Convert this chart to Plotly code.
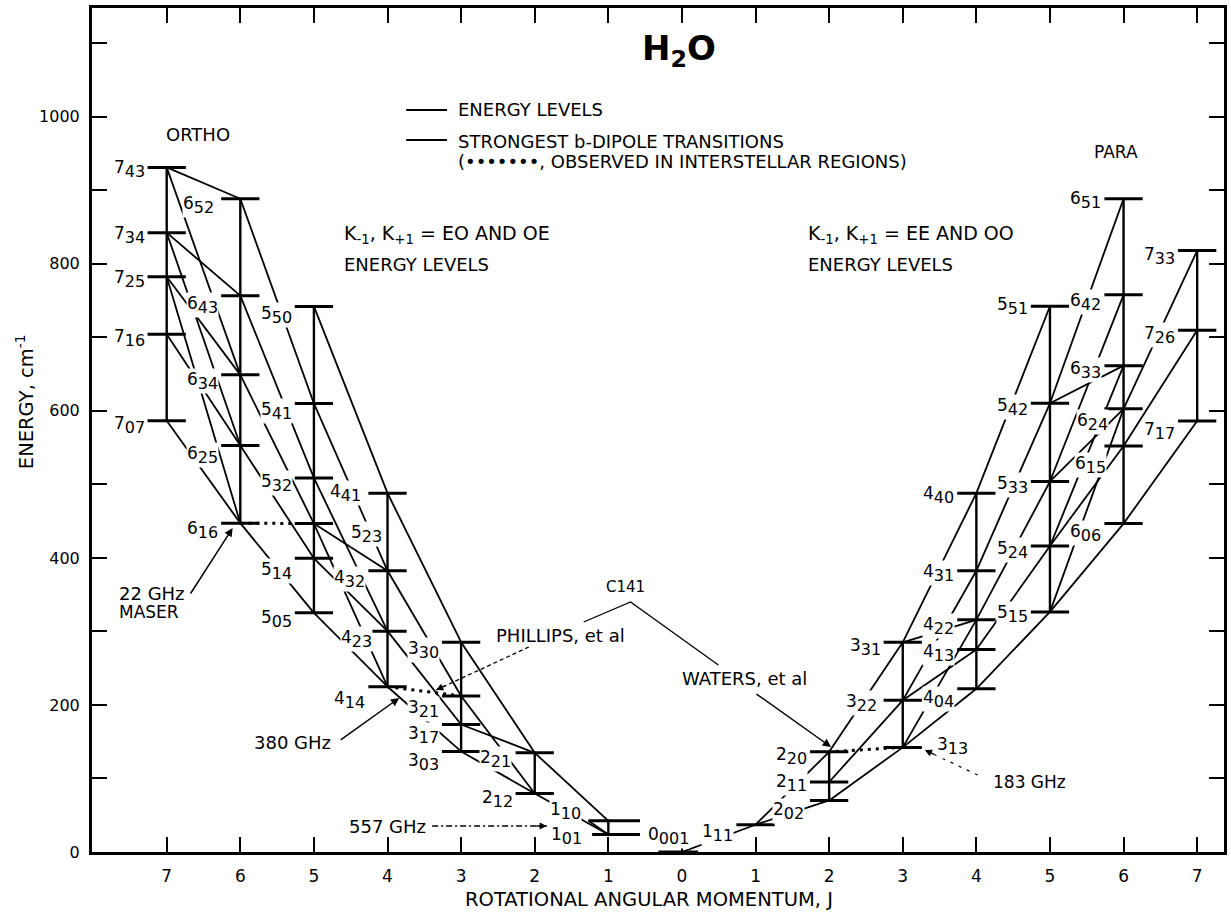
import plotly.graph_objects as go

# ---------------- data ----------------
ortho_levels = ["1_01", "1_10", "2_12", "2_21", "3_03", "3_17", "3_21", "3_30",
                "4_14", "4_23", "4_32", "4_41", "5_05", "5_14", "5_23", "5_32", "5_41", "5_50",
                "6_16", "6_25", "6_34", "6_43", "6_52", "7_07", "7_16", "7_25", "7_34", "7_43"]
ortho_energy = [23.8, 42.4, 79.5, 134.9, 136.8, 173.4, 212.2, 285.4,
                224.8, 300.4, 382.5, 488.1, 325.3, 399.5, 446.7, 508.8, 610.1, 742.1,
                447.3, 552.9, 649.0, 756.7, 888.6, 586.5, 704.2, 782.4, 842.4, 931.2]

para_levels = ["0_00", "1_11", "2_02", "2_11", "2_20", "3_13", "3_22", "3_31",
               "4_04", "4_13", "4_22", "4_31", "4_40", "5_15", "5_24", "5_33", "5_42", "5_51",
               "6_06", "6_15", "6_24", "6_33", "6_42", "6_51", "7_17", "7_26", "7_33"]
para_energy = [0.0, 37.1, 70.1, 95.2, 136.2, 142.3, 206.3, 285.2,
               222.0, 275.5, 315.8, 382.5, 488.1, 326.6, 416.2, 504.0, 610.3, 742.3,
               446.7, 552.3, 602.8, 661.5, 757.8, 888.6, 586.2, 709.6, 818.0]

ortho_transitions = [("7_43", "6_52"), ("7_43", "6_34"), ("7_34", "6_43"), ("7_34", "6_25"),
                     ("7_25", "6_34"), ("7_25", "6_16"), ("7_16", "6_25"), ("7_07", "6_16"),
                     ("6_52", "5_41"), ("6_43", "5_32"), ("6_34", "5_23"), ("6_25", "5_14"),
                     ("6_16", "5_05"),
                     ("5_50", "4_41"), ("5_41", "4_32"), ("5_32", "4_23"), ("5_23", "4_32"),
                     ("5_23", "4_14"), ("5_14", "4_23"), ("5_05", "4_14"),
                     ("4_41", "3_30"), ("4_32", "3_21"), ("4_23", "3_17"), ("4_14", "3_03"),
                     ("3_30", "2_21"), ("3_21", "2_12"), ("3_17", "2_21"), ("3_03", "2_12"),
                     ("2_21", "1_10"), ("2_12", "1_01")]
para_transitions = [("1_11", "0_00"), ("2_02", "1_11"), ("2_20", "1_11"),
                    ("3_13", "2_02"), ("3_22", "2_11"), ("3_31", "2_20"),
                    ("4_04", "3_13"), ("4_13", "3_22"), ("4_22", "3_13"), ("4_22", "3_31"),
                    ("4_31", "3_22"), ("4_40", "3_31"),
                    ("5_15", "4_04"), ("5_24", "4_13"), ("5_33", "4_22"), ("5_42", "4_31"),
                    ("5_51", "4_40"),
                    ("6_06", "5_15"), ("6_15", "5_24"), ("6_24", "5_15"), ("6_24", "5_33"),
                    ("6_33", "5_24"), ("6_33", "5_42"), ("6_42", "5_33"), ("6_51", "5_42"),
                    ("7_17", "6_06"), ("7_26", "6_15"), ("7_33", "6_24")]
observed_lines = [("6_16", "5_23"), ("4_14", "3_21"), ("3_13", "2_20")]

j_tick_values = [-7, -6, -5, -4, -3, -2, -1, 0, 1, 2, 3, 4, 5, 6, 7]
j_tick_labels = ["7", "6", "5", "4", "3", "2", "1", "0", "1", "2", "3", "4", "5", "6", "7"]
energy_tick_values = [0, 100, 200, 300, 400, 500, 600, 700, 800, 900, 1000, 1100]
energy_tick_labels = ["0", "", "200", "", "400", "", "600", "", "800", "", "1000", ""]

# ---------------- layout constants ----------------
FONT = "DejaVu Sans"
W, H = 1231, 914
PL, PR, PT, PB = 92, 1227, 8, 852      # plot-area edges in px
X0PX, XSCALE = 683.5, 73.8             # px of J=0, px per J
YSCALE = (PB - PT) / 1148.0


def px_x(px):
    return (px - X0PX) / XSCALE


def px_y(py):
    return (PB - py) / YSCALE


def paper_x(px):
    return (px - PL) / (PR - PL)


def paper_y(py):
    return (PB - py) / (PB - PT)


HALF = 0.26
bar_extent = {"1_10": (-0.27, 0.43), "1_01": (-0.22, 0.43), "0_00": (-0.32, 0.22)}

pos = {}
for n, e in zip(ortho_levels, ortho_energy):
    pos[n] = (-int(n.split("_")[0]), e)
for n, e in zip(para_levels, para_energy):
    pos[n] = (int(n.split("_")[0]), e)

fig = go.Figure()

# energy-level bars
bx, by = [], []
for n, (x, e) in pos.items():
    lo, hi = bar_extent.get(n, (-HALF, HALF))
    bx += [x + lo, x + hi, None]
    by += [e, e, None]
fig.add_trace(go.Scatter(x=bx, y=by, mode="lines", line=dict(color="black", width=3),
                         hoverinfo="skip", showlegend=False))

# vertical connectors at each J
vx, vy = [], []
for names in (ortho_levels, para_levels):
    groups = {}
    for n in names:
        groups.setdefault(pos[n][0], []).append(pos[n][1])
    for x, es in groups.items():
        if len(es) > 1:
            vx += [x, x, None]
            vy += [min(es), max(es), None]
fig.add_trace(go.Scatter(x=vx, y=vy, mode="lines", line=dict(color="black", width=2.4),
                         hoverinfo="skip", showlegend=False))

# b-dipole transitions
tx, ty = [], []
for a, b in ortho_transitions + para_transitions:
    tx += [pos[a][0], pos[b][0], None]
    ty += [pos[a][1], pos[b][1], None]
# 557 GHz 1_10 -> 1_01
tx += [pos["1_10"][0] + bar_extent["1_10"][0], pos["1_01"][0], None]
ty += [pos["1_10"][1], pos["1_01"][1], None]
fig.add_trace(go.Scatter(x=tx, y=ty, mode="lines", line=dict(color="black", width=1.8),
                         hoverinfo="skip", showlegend=False))

# observed (dotted) transitions
ox, oy = [], []
for a, b in observed_lines:
    ox += [pos[a][0], pos[b][0], None]
    oy += [pos[a][1], pos[b][1], None]
fig.add_trace(go.Scatter(x=ox, y=oy, mode="lines",
                         line=dict(color="black", width=3, dash="3px,5px"),
                         hoverinfo="skip", showlegend=False))

annotations = []
shapes = []


def txt(px, py, text, size=18, xanchor="center", yanchor="middle", **kw):
    d = dict(x=paper_x(px), y=paper_y(py), xref="paper", yref="paper", text=text,
             showarrow=False, font=dict(size=size, family=FONT, color="black"),
             xanchor=xanchor, yanchor=yanchor)
    d.update(kw)
    annotations.append(d)


def arrow(x0, y0, x1, y1, dash=None, width=1.5):
    """line from (x0,y0) px to head at (x1,y1) px"""
    L = ((x1 - x0) ** 2 + (y1 - y0) ** 2) ** 0.5
    if dash:
        shapes.append(dict(type="line", xref="paper", yref="paper",
                           x0=paper_x(x0), y0=paper_y(y0), x1=paper_x(x1), y1=paper_y(y1),
                           line=dict(color="black", width=width, dash=dash)))
        ax, ay = (x0 - x1) / L * 12, (y0 - y1) / L * 12
    else:
        ax, ay = x0 - x1, y0 - y1
    annotations.append(dict(x=paper_x(x1), y=paper_y(y1), xref="paper", yref="paper", text="",
                            showarrow=True, arrowhead=2, arrowsize=1.1, arrowwidth=width,
                            arrowcolor="black", ax=ax, ay=ay, standoff=0))


# level labels (pixel nudges)
label_yshift = {
    "7_43": -2, "7_34": -2, "7_25": -2, "7_16": -4, "7_07": -4,
    "6_52": -6, "6_43": -9, "6_34": -6, "6_25": -9, "6_16": -7,
    "5_50": -9, "5_41": -8, "5_32": -5, "5_23": -10, "5_14": -13, "5_05": -6,
    "4_41": 0, "4_32": -8, "4_23": -8, "4_14": -13,
    "3_30": -8, "3_21": -13, "3_17": -10, "3_03": -11,
    "2_21": -6, "2_12": -5, "1_10": 10, "1_01": -1,
    "0_00": 16, "1_11": -8, "2_02": -11, "2_11": -1, "2_20": -4,
    "3_13": 1, "3_22": -3, "3_31": -5,
    "4_40": -2, "4_31": -2, "4_22": -6, "4_13": -4, "4_04": -10,
    "5_51": 0, "5_42": -4, "5_33": -4, "5_24": -4, "5_15": -2,
    "6_51": -1, "6_42": -7, "6_33": -4, "6_24": -13, "6_15": -19, "6_06": -9,
    "7_33": -5, "7_26": -5, "7_17": -10,
}
label_xshift = {"6_52": -6, "4_41": -6, "2_21": -4, "2_02": -5, "3_22": -6, "4_23": 5,
                "6_24": 5, "6_15": 3, "1_10": -6, "1_01": -9, "0_00": 8}
right_side = {"5_23": 17, "3_13": 14}

for n, (x, e) in pos.items():
    j, sub = n.split("_")
    if n == "0_00":
        sub = sub + "1"
    text = f"{j}<sub><span style='font-size:16px'>{sub}</span></sub>"
    common = dict(y=e, xref="x", yref="y", text=text, showarrow=False,
                  font=dict(size=17, family=FONT, color="black"), yanchor="middle",
                  yshift=label_yshift.get(n, -6), bgcolor="white", borderpad=0)
    if n in right_side:
        annotations.append(dict(x=x + HALF, xanchor="left", xshift=right_side[n], **common))
    else:
        xa = x if n == "0_00" else x + bar_extent.get(n, (-HALF, HALF))[0]
        annotations.append(dict(x=xa, xanchor="right", xshift=label_xshift.get(n, -2), **common))

# titles and texts
txt(681, 50, "<b>H<sub>2</sub>O</b>", size=34)
txt(198, 135, "ORTHO", size=18)
txt(1119, 152, "PARA", size=17)
for ly in (110, 140):
    shapes.append(dict(type="line", xref="paper", yref="paper", x0=paper_x(407), x1=paper_x(448),
                       y0=paper_y(ly), y1=paper_y(ly), line=dict(color="black", width=2)))
txt(457, 110, "ENERGY LEVELS", size=18, xanchor="left")
txt(457, 141, "STRONGEST b-DIPOLE TRANSITIONS", size=18, xanchor="left")
txt(457, 161, "(•••••••, OBSERVED IN INTERSTELLAR REGIONS)", size=18, xanchor="left")
txt(343, 234, "K<sub>-1</sub>, K<sub>+1</sub> = EO AND OE", size=19, xanchor="left")
txt(343, 264, "ENERGY LEVELS", size=18, xanchor="left")
txt(808, 234, "K<sub>-1</sub>, K<sub>+1</sub> = EE AND OO", size=19, xanchor="left")
txt(808, 265, "ENERGY LEVELS", size=18, xanchor="left")

txt(117, 593, "22 GHz", size=18, xanchor="left")
txt(117, 612, "MASER", size=17, xanchor="left")
arrow(190, 595, 233, 528)
txt(334, 742, "380 GHz", size=18, xanchor="right")
arrow(340, 741, 400, 698)
txt(495, 635, "PHILLIPS, et al", size=18, xanchor="left")
arrow(530, 647, 437, 690, dash="4px,3px", width=1.3)
txt(627, 587, "C141", size=15)
shapes.append(dict(type="path", xref="paper", yref="paper",
                   path=(f"M {paper_x(585)},{paper_y(622)} L {paper_x(632)},{paper_y(602)} "
                         f"L {paper_x(720)},{paper_y(665)}"),
                   line=dict(color="black", width=1.3)))
txt(682, 678, "WATERS, et al", size=18, xanchor="left")
arrow(757, 693, 833, 747)
txt(993, 782, "183 GHz", size=17, xanchor="left")
arrow(980, 775, 927, 750, dash="3px,6px", width=1.3)
txt(429, 826, "557 GHz", size=18, xanchor="right")
arrow(433, 826, 548, 826, dash="6px,3px,2px,3px", width=1.3)

# axis titles
txt(650, 899, "ROTATIONAL ANGULAR MOMENTUM, J", size=19.5)
txt(25, 402, "ENERGY, cm<sup>-1</sup>", size=19.5, textangle=-90)

fig.update_layout(
    width=W, height=H, autosize=False,
    margin=dict(l=PL, r=W - PR, t=PT, b=H - PB),
    plot_bgcolor="white", paper_bgcolor="white",
    font=dict(family=FONT, color="black", size=16),
    annotations=annotations, shapes=shapes, showlegend=False,
)
fig.update_xaxes(range=[px_x(PL), px_x(PR)], tickvals=j_tick_values, ticktext=j_tick_labels,
                 showgrid=False, zeroline=False, showline=True, linecolor="black", linewidth=2.5,
                 mirror="ticks", ticks="inside", ticklen=15, tickwidth=2, tickcolor="black",
                 tickfont=dict(size=17, family=FONT, color="black"), ticklabelstandoff=7)
fig.update_yaxes(range=[0, px_y(PT)], tickvals=energy_tick_values, ticktext=energy_tick_labels,
                 showgrid=False, zeroline=False, showline=True, linecolor="black", linewidth=3,
                 mirror="ticks", ticks="inside", ticklen=15, tickwidth=2, tickcolor="black",
                 tickfont=dict(size=16, family=FONT, color="black"), ticklabelstandoff=6)

fig.write_html("out.html")
